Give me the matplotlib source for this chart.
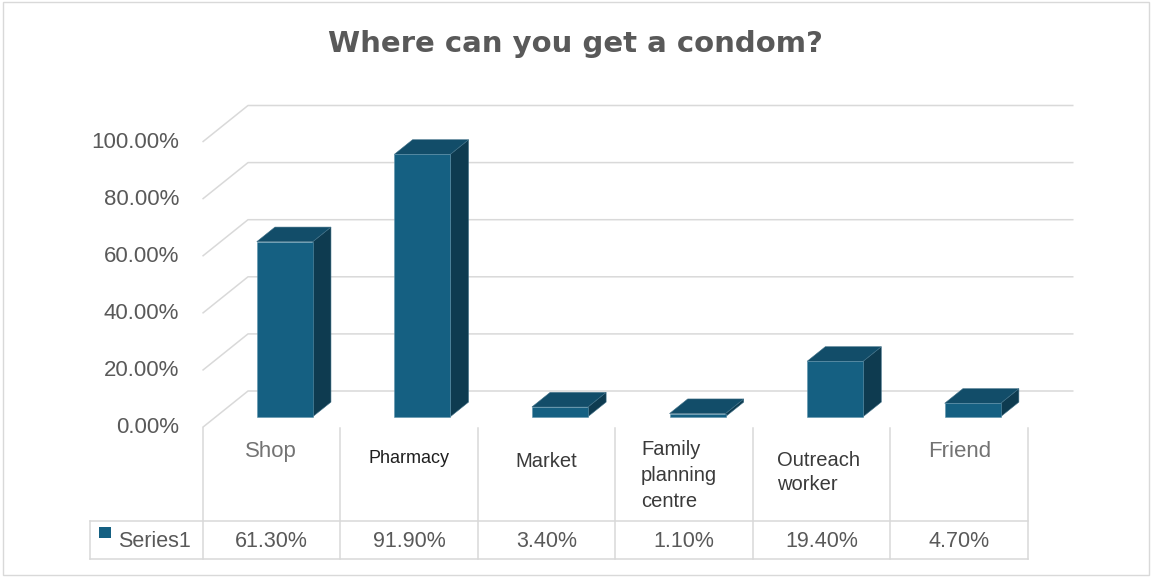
import matplotlib
matplotlib.use("Agg")
import matplotlib.pyplot as plt
from matplotlib.patches import Polygon, Rectangle
from matplotlib.lines import Line2D

# ---- data ----
title = "Where can you get a condom?"
categories = ["Shop", "Pharmacy", "Market", "Family\nplanning\ncentre", "Outreach\nworker", "Friend"]
values = [61.3, 91.9, 3.4, 1.1, 19.4, 4.7]
value_labels = ["61.30%", "91.90%", "3.40%", "1.10%", "19.40%", "4.70%"]
y_ticks = [0, 20, 40, 60, 80, 100]
series_name = "Series1"

# ---- styles ----
FRONT = "#156082"
TOP = "#124d69"
SIDE = "#0e3b50"
GRID = "#d9d9d9"
TEXT = "#595959"
SANS = "Liberation Sans"

# per-category label styling: (size, colour, align, first baseline px, line gap px, left px)
label_style = [
    (16.0, "#737373", "center", 457, 0, None),
    (13.0, "#1f1f1f", "center", 463, 0, None),
    (14.5, "#3a3a3a", "center", 467, 0, None),
    (14.5, "#3a3a3a", "left", 455, 26, 641),
    (14.5, "#3a3a3a", "left", 466, 24.5, 777),
    (16.0, "#737373", "center", 457, 0, None),
]

W, H = 1151, 578
fig = plt.figure(figsize=(W / 100, H / 100), dpi=100)
fig.patch.set_facecolor("white")


def fx(x):
    return x / W


def fy(y):
    return 1 - y / H


# front plane of the 3D plot area
front_left, front_right = 202.5, 1028
front_bottom, front_top = 427.5, 142
ax = fig.add_axes([fx(front_left), fy(front_bottom),
                   (front_right - front_left) / W, (front_bottom - front_top) / H])
n = len(values)
ax.set_xlim(-0.5, n - 0.5)
ax.set_ylim(0, 100)
ax.axis("off")

# depth of the box in data units
px_per_cat = (front_right - front_left) / n
px_per_pct = (front_bottom - front_top) / 100
DX = 45.5 / px_per_cat
DY = 36.5 / px_per_pct

# gridlines: diagonal on the side wall, then across the back wall
for t in y_ticks:
    ax.plot([-0.5, -0.5 + DX, n - 0.5 + DX], [t, t + DY, t + DY],
            color=GRID, lw=1.1, clip_on=False, zorder=1, solid_capstyle="butt")
    ax.annotate(f"{t:.2f}%", xy=(-0.5, t), xytext=(-23.5, 0), textcoords="offset pixels",
                ha="right", va="center", fontsize=16, color=TEXT, family=SANS,
                annotation_clip=False)

# 3D columns
bw = 0.407
f0 = 0.296   # depth position of the front face
fd = 0.40    # column depth
for i, v in enumerate(values):
    x0 = i - bw / 2 + f0 * DX
    y0 = f0 * DY
    ddx, ddy = fd * DX, fd * DY
    side = Polygon([(x0 + bw, y0), (x0 + bw + ddx, y0 + ddy),
                    (x0 + bw + ddx, y0 + v + ddy), (x0 + bw, y0 + v)],
                   closed=True, facecolor=SIDE, edgecolor="#3f6f86", lw=0.4,
                   clip_on=False, zorder=3)
    top = Polygon([(x0, y0 + v), (x0 + bw, y0 + v),
                   (x0 + bw + ddx, y0 + v + ddy), (x0 + ddx, y0 + v + ddy)],
                  closed=True, facecolor=TOP, edgecolor="#3f6f86", lw=0.4,
                  clip_on=False, zorder=3)
    front = Rectangle((x0, y0), bw, v, facecolor=FRONT, edgecolor="#5f93ab", lw=0.4,
                      clip_on=False, zorder=4)
    for p in (side, top, front):
        ax.add_patch(p)

# ---- data table ----
table_left = 90
row_line = 521
table_bottom = 559
col_edges = [front_left + k * px_per_cat for k in range(n + 1)]


def fig_line(xs, ys):
    fig.add_artist(Line2D([fx(x) for x in xs], [fy(y) for y in ys],
                          color=GRID, lw=1.1, transform=fig.transFigure))


for xe in col_edges:
    fig_line([xe, xe], [front_bottom, table_bottom])
fig_line([table_left, table_left], [row_line, table_bottom])
fig_line([table_left, front_right], [row_line, row_line])
fig_line([table_left, front_right], [table_bottom, table_bottom])

for i, (lab, st) in enumerate(zip(categories, label_style)):
    size, col, ha, base, gap, left = st
    xc = front_left + (i + 0.5) * px_per_cat
    xpos = left if ha == "left" else xc
    for k, line in enumerate(lab.split("\n")):
        fig.text(fx(xpos), fy(base + k * gap), line, ha=ha, va="baseline",
                 fontsize=size, color=col, family=SANS)

for i, vl in enumerate(value_labels):
    xc = front_left + (i + 0.5) * px_per_cat
    fig.text(fx(xc), fy(547), vl, ha="center", va="baseline",
             fontsize=15.5, color=TEXT, family=SANS)

# legend key and series name
fig.add_artist(Rectangle((fx(99), fy(538)), 12 / W, 11 / H, facecolor=FRONT,
                         edgecolor="none", transform=fig.transFigure))
fig.text(fx(118), fy(547), series_name, ha="left", va="baseline",
         fontsize=15.5, color=TEXT, family=SANS)

# title
fig.text(fx(575), fy(52.5), title, ha="center", va="baseline", fontsize=21,
         fontweight="bold", color=TEXT, family="DejaVu Sans")

# chart border
fig.add_artist(Rectangle((fx(3), fy(575)), (1149 - 3) / W, (575 - 2) / H,
                         facecolor="none", edgecolor=GRID, lw=1.0,
                         transform=fig.transFigure))

fig.savefig("out.png", dpi=100, facecolor="white")
